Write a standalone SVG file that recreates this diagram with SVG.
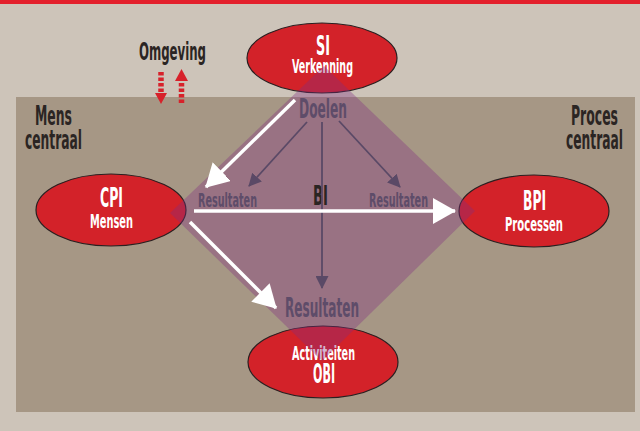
<svg xmlns="http://www.w3.org/2000/svg" width="640" height="431" viewBox="0 0 640 431">
  <style>
    text { font-family: "Liberation Sans Narrow", "DejaVu Sans Condensed", "Liberation Sans", sans-serif; font-weight: bold; }
    .dark { fill: #2b2523; }
    .white { fill: #ffffff; }
    .muted { fill: #5e4c69; }
    .node { fill: #d32229; stroke: #2a1f20; stroke-width: 1.2; }
    .wline { stroke: #ffffff; stroke-width: 3.5; fill: none; }
    .dline { stroke: #5a4966; stroke-width: 1.8; fill: none; }
    .rdash { stroke: #d7212a; stroke-width: 5.5; stroke-dasharray: 3.5 2; fill: none; }
  </style>
  <defs>
    <marker id="whiteHead" markerUnits="userSpaceOnUse" viewBox="0 0 23 26" markerWidth="23" markerHeight="26" refX="22" refY="13" orient="auto">
      <path d="M0,0 L23,13 L0,26 Z" fill="#ffffff"/>
    </marker>
    <marker id="darkHead" markerUnits="userSpaceOnUse" viewBox="0 0 13 13" markerWidth="13" markerHeight="13" refX="12" refY="6.5" orient="auto">
      <path d="M0,0 L13,6.5 L0,13 Z" fill="#5a4966"/>
    </marker>
  </defs>

  <!-- page background and inner panel -->
  <rect x="0" y="0" width="640" height="431" fill="#cdc4b9"/>
  <rect x="0" y="0" width="640" height="4" fill="#e3202c"/>
  <rect x="16" y="97" width="619" height="315" fill="#a69785"/>

  <!-- environment label with in/out arrows -->
  <g id="omgeving">
    <text class="dark" x="139" y="60" font-size="24" textLength="67" lengthAdjust="spacingAndGlyphs">Omgeving</text>
    <line class="rdash" x1="161" y1="72" x2="161" y2="93"/>
    <polygon points="155,93 167,93 161,104" fill="#d7212a"/>
    <line class="rdash" x1="181.5" y1="83" x2="181.5" y2="103"/>
    <polygon points="175,81 188,81 181.5,69" fill="#d7212a"/>
  </g>

  <!-- corner captions -->
  <g id="mens-centraal">
    <text class="dark" x="35" y="125" font-size="26" textLength="37" lengthAdjust="spacingAndGlyphs">Mens</text>
    <text class="dark" x="25" y="149" font-size="26" textLength="57" lengthAdjust="spacingAndGlyphs">centraal</text>
  </g>
  <g id="proces-centraal">
    <text class="dark" x="571" y="125" font-size="26" textLength="47" lengthAdjust="spacingAndGlyphs">Proces</text>
    <text class="dark" x="566" y="149" font-size="26" textLength="57" lengthAdjust="spacingAndGlyphs">centraal</text>
  </g>

  <!-- the four nodes -->
  <g id="SI">
    <ellipse class="node" cx="322" cy="58" rx="75" ry="35"/>
    <text class="white" x="316" y="55" font-size="26" textLength="14" lengthAdjust="spacingAndGlyphs">SI</text>
    <text class="white" x="292" y="73" font-size="19" textLength="61" lengthAdjust="spacingAndGlyphs">Verkenning</text>
  </g>
  <g id="CPI">
    <ellipse class="node" cx="111" cy="210" rx="75" ry="36"/>
    <text class="white" x="100" y="207" font-size="26" textLength="23" lengthAdjust="spacingAndGlyphs">CPI</text>
    <text class="white" x="90" y="228" font-size="19" textLength="43" lengthAdjust="spacingAndGlyphs">Mensen</text>
  </g>
  <g id="BPI">
    <ellipse class="node" cx="534" cy="211" rx="75" ry="36"/>
    <text class="white" x="523" y="210" font-size="26" textLength="23" lengthAdjust="spacingAndGlyphs">BPI</text>
    <text class="white" x="505" y="231" font-size="19" textLength="58" lengthAdjust="spacingAndGlyphs">Processen</text>
  </g>
  <g id="OBI">
    <ellipse class="node" cx="323" cy="362" rx="75" ry="36"/>
    <text class="white" x="292" y="360" font-size="20" textLength="63" lengthAdjust="spacingAndGlyphs">Activiteiten</text>
    <text class="white" x="313" y="383" font-size="26" textLength="22" lengthAdjust="spacingAndGlyphs">OBI</text>
  </g>

  <!-- translucent BI diamond spanning the four nodes -->
  <g id="BI">
    <polygon points="324,66 475,211 322,361 170,213" fill="#822d82" fill-opacity="0.35"/>
    <text class="dark" x="313" y="205" font-size="27" textLength="15" lengthAdjust="spacingAndGlyphs">BI</text>
  </g>

  <!-- connectors -->
  <g id="connectors">
    <line class="dline" x1="322" y1="122" x2="322" y2="288" marker-end="url(#darkHead)"/>
    <line class="dline" x1="307" y1="122" x2="249" y2="186" marker-end="url(#darkHead)"/>
    <line class="dline" x1="339" y1="121" x2="400" y2="187" marker-end="url(#darkHead)"/>
    <line class="wline" x1="295" y1="100" x2="206" y2="187" marker-end="url(#whiteHead)"/>
    <line class="wline" x1="194" y1="211" x2="455" y2="211" marker-end="url(#whiteHead)"/>
    <line class="wline" x1="190" y1="222" x2="276" y2="308" marker-end="url(#whiteHead)"/>
  </g>

  <!-- labels inside the diamond -->
  <g id="diamond-labels">
    <text class="muted" x="299" y="118" font-size="27" textLength="48" lengthAdjust="spacingAndGlyphs">Doelen</text>
    <text class="muted" x="198" y="207" font-size="20" textLength="59" lengthAdjust="spacingAndGlyphs">Resultaten</text>
    <text class="muted" x="369" y="207" font-size="20" textLength="59" lengthAdjust="spacingAndGlyphs">Resultaten</text>
    <text class="muted" x="285" y="317" font-size="27" textLength="74" lengthAdjust="spacingAndGlyphs">Resultaten</text>
  </g>
</svg>
